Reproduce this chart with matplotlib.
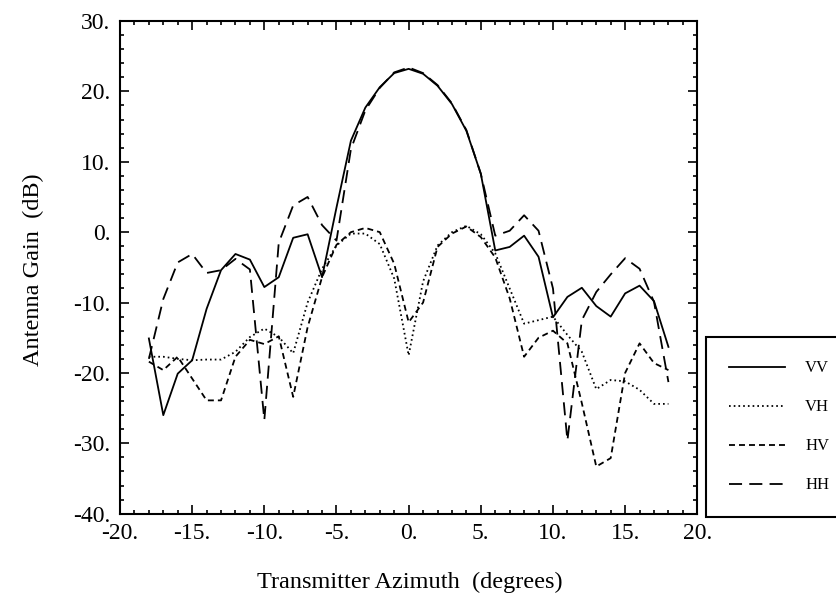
import numpy as np
import matplotlib
matplotlib.use("Agg")
import matplotlib.pyplot as plt
from matplotlib.ticker import MultipleLocator, FuncFormatter

# ---- data ----
azimuth = [-18, -17, -16, -15, -14, -13, -12, -11, -10, -9, -8, -7, -6, -5, -4, -3, -2, -1,
           0, 1, 2, 3, 4, 5, 6, 7, 8, 9, 10, 11, 12, 13, 14, 15, 16, 17, 18]

vv = [-15.1, -26.0, -20.1, -18.2, -10.9, -5.4, -3.1, -3.9, -7.8, -6.4, -0.8, -0.3, -6.4, 3.5,
      13.0, 17.7, 20.6, 22.6, 23.2, 22.5, 20.8, 18.2, 14.4, 8.3, -2.6, -2.1, -0.5, -3.5,
      -12.1, -9.2, -7.9, -10.5, -12.0, -8.7, -7.6, -9.8, -16.3]

vh = [-17.7, -17.7, -18.0, -18.2, -18.1, -18.1, -17.0, -14.9, -13.7, -14.9, -17.2, -10.0,
      -5.2, -1.9, -0.2, -0.2, -1.7, -6.6, -17.5, -7.0, -1.9, 0.0, 0.9, -0.3, -3.0, -8.0,
      -13.0, -12.5, -12.0, -14.6, -17.0, -22.3, -21.0, -21.2, -22.4, -24.4, -24.4]

hv = [-18.4, -19.6, -17.7, -20.8, -23.9, -23.9, -17.7, -15.3, -15.9, -14.8, -23.4, -13.5,
      -6.4, -1.8, 0.0, 0.6, 0.0, -4.5, -12.8, -10.0, -2.1, -0.2, 0.8, -0.7, -3.6, -9.4,
      -17.7, -15.0, -14.0, -15.8, -24.3, -33.3, -32.1, -20.0, -15.8, -18.6, -19.6]

hh = [-18.0, -9.5, -4.3, -3.1, -5.8, -5.4, -3.8, -5.3, -26.7, -1.5, 3.8, 5.0, 1.0, -1.2,
      11.8, 17.3, 20.5, 22.7, 23.4, 22.6, 20.9, 18.3, 14.5, 8.3, -0.5, 0.2, 2.4, 0.2,
      -8.0, -29.6, -12.5, -8.5, -6.0, -3.7, -5.2, -9.9, -21.3]

series_labels = ["VV", "VH", "HV", "HH"]

# ---- style ----
plt.rcParams["font.family"] = ["Liberation Serif", "DejaVu Serif"]
plt.rcParams["lines.scale_dashes"] = False

W, H = 837, 614
fig = plt.figure(figsize=(W / 100, H / 100), dpi=100)
ax = fig.add_axes([120 / W, 1 - 513.7 / H, (697.3 - 120) / W, (513.7 - 21) / H])

lw = 1.3
ax.plot(azimuth, vv, color="black", lw=lw, linestyle="-", label=series_labels[0])
ax.plot(azimuth, vh, color="black", lw=lw, linestyle=(0, (1.2, 2.2)), label=series_labels[1])
ax.plot(azimuth, hv, color="black", lw=lw, linestyle=(0, (4.3, 2.9)), label=series_labels[2])
ax.plot(azimuth, hh, color="black", lw=lw, linestyle=(0, (9.4, 5.2)), label=series_labels[3])

ax.set_xlim(-20, 20)
ax.set_ylim(-40, 30)
ax.xaxis.set_major_locator(MultipleLocator(5))
ax.xaxis.set_minor_locator(MultipleLocator(1))
ax.yaxis.set_major_locator(MultipleLocator(10))
ax.yaxis.set_minor_locator(MultipleLocator(2))
fmt = FuncFormatter(lambda v, p: f"{int(round(v))}.")
ax.xaxis.set_major_formatter(fmt)
ax.yaxis.set_major_formatter(fmt)

ax.tick_params(which="both", direction="in", top=True, right=True, width=1.2, colors="black")
ax.tick_params(which="major", length=6.5, labelsize=17, pad=7)
ax.tick_params(which="minor", length=3.2)
for s in ax.spines.values():
    s.set_linewidth(1.5)

ax.set_xlabel("Transmitter Azimuth  (degrees)", fontsize=17.5)
ax.set_ylabel("Antenna Gain  (dB)", fontsize=17.5)
ax.xaxis.set_label_coords(0.5026, -0.118)
ax.yaxis.set_label_coords(-0.132, 0.495)

leg = ax.legend(loc="upper left", bbox_to_anchor=(706 / W, 1 - 337 / H),
                bbox_transform=fig.transFigure, borderaxespad=0, fontsize=12,
                handlelength=3.35, handletextpad=1.2, labelspacing=1.38, borderpad=1.4,
                frameon=True, fancybox=False, shadow=False, framealpha=1)
leg.get_frame().set_edgecolor("black")
leg.get_frame().set_linewidth(1.5)

fig.savefig("out.png", dpi=100)
